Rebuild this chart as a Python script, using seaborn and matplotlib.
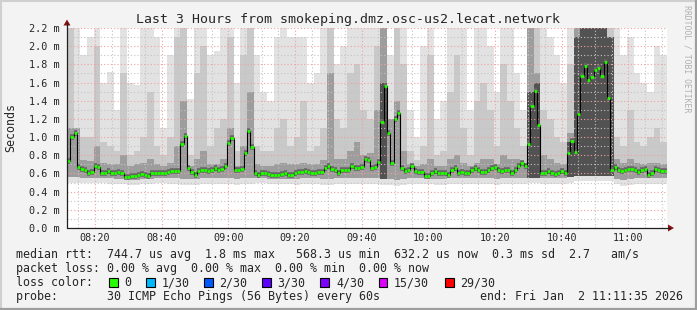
import numpy as np
import pandas as pd
import matplotlib
matplotlib.use("Agg")
import matplotlib.pyplot as plt
import seaborn as sns
from matplotlib.lines import Line2D
from matplotlib.patches import Polygon, Rectangle

# ---------------- data ----------------
# one-minute median RTT values (ms), 180 steps from 08:11:35 to 11:11:35
median_ms = [
    0.737, 1.00, 1.05, 0.67, 0.65, 0.635, 0.60, 0.62, 0.685, 0.67,
    0.605, 0.605, 0.625, 0.61, 0.61, 0.62, 0.60, 0.56, 0.56, 0.575,
    0.575, 0.58, 0.59, 0.58, 0.575, 0.60, 0.60, 0.605, 0.605, 0.605,
    0.62, 0.625, 0.625, 0.625, 0.92, 1.015, 0.665, 0.62, 0.585, 0.625,
    0.635, 0.64, 0.625, 0.64, 0.665, 0.64, 0.65, 0.685, 0.935, 0.995,
    0.64, 0.635, 0.65, 0.825, 1.067, 0.89, 0.60, 0.585, 0.60, 0.60,
    0.595, 0.585, 0.585, 0.585, 0.59, 0.605, 0.585, 0.585, 0.60, 0.62,
    0.62, 0.625, 0.62, 0.605, 0.61, 0.62, 0.62, 0.66, 0.68, 0.65,
    0.635, 0.61, 0.635, 0.635, 0.635, 0.68, 0.66, 0.665, 0.67, 0.76,
    0.745, 0.665, 0.67, 0.73, 1.17, 1.565, 1.045, 0.71, 1.20, 1.26,
    0.665, 0.625, 0.64, 0.68, 0.625, 0.62, 0.62, 0.575, 0.57, 0.605,
    0.625, 0.61, 0.605, 0.605, 0.585, 0.64, 0.655, 0.605, 0.62, 0.61,
    0.605, 0.64, 0.655, 0.64, 0.62, 0.62, 0.64, 0.655, 0.67, 0.64,
    0.625, 0.64, 0.635, 0.61, 0.635, 0.68, 0.71, 0.68, 0.92, 1.345,
    1.505, 1.133, 0.60, 0.605, 0.625, 0.61, 0.59, 0.605, 0.625, 0.61,
    0.83, 0.955, 0.84, 1.257, 1.675, 1.785, 1.632, 1.66, 1.74, 1.757,
    1.675, 1.83, 1.433, 0.64, 0.67, 0.635, 0.625, 0.64, 0.645, 0.645,
    0.635, 0.62, 0.64, 0.645, 0.585, 0.60, 0.645, 0.64, 0.625, 0.625,
]

# smoke (ping spread) per two-minute column, ms
smoke_max = [
    2.3, 2.3, 1.9, 2.1, 2.3, 1.6, 1.72, 1.3, 2.3, 1.6, 1.57, 2.3, 2.2, 2.1, 1.1,
    1.9, 2.3, 2.3, 1.42, 2.3, 2.3, 1.9, 1.95, 2.25, 2.3, 1.6, 2.3, 2.3, 1.9, 1.5,
    1.4, 2.1, 2.3, 2.1, 2.1, 2.1, 1.6, 1.7, 2.3, 2.3, 1.8, 2.0, 2.3, 2.3, 2.3,
    2.2, 2.3, 2.3, 1.9, 2.3, 2.3, 1.3, 1.0, 2.0, 2.3, 1.2, 1.4, 2.2, 2.3, 2.3,
    1.3, 2.3, 2.3, 2.0, 1.5, 2.3, 2.2, 1.7, 1.3, 2.3, 2.3, 2.3, 2.1, 1.9, 1.6,
    2.3, 2.3, 2.3, 2.3, 2.3, 2.3, 2.3, 2.3, 1.9, 2.1, 1.7, 1.6, 1.5, 2.0, 1.9,
]
smoke_mid = [
    2.2, 1.1, 1.0, 1.0, 2.0, 0.95, 0.9, 0.85, 1.7, 0.8, 0.85, 1.0, 1.5, 0.9, 0.8,
    1.0, 2.1, 2.2, 0.8, 1.7, 2.0, 0.9, 1.1, 1.2, 2.1, 0.85, 1.9, 2.2, 0.9, 0.85,
    0.85, 1.1, 1.2, 0.9, 1.0, 1.4, 0.85, 0.9, 1.1, 2.2, 1.2, 1.1, 1.7, 1.8, 1.3,
    1.2, 2.0, 2.3, 1.2, 2.2, 1.8, 0.85, 0.75, 0.9, 1.9, 0.8, 0.85, 1.5, 1.9, 1.1,
    0.8, 1.4, 1.6, 1.3, 0.9, 1.8, 1.4, 1.1, 0.9, 2.3, 2.3, 1.3, 1.2, 1.0, 0.95,
    1.8, 2.3, 2.3, 2.3, 2.3, 2.3, 2.3, 1.0, 0.9, 1.3, 0.95, 0.9, 1.0, 1.1, 0.95,
]
smoke_dark = [
    1.1, 1.1, 0.75, 0.74, 0.9, 0.72, 0.7, 0.7, 0.8, 0.68, 0.7, 0.72, 0.76, 0.7, 0.68,
    0.72, 0.9, 1.4, 0.68, 0.76, 0.85, 0.7, 0.7, 0.76, 1.1, 0.68, 0.9, 1.5, 0.7, 0.68,
    0.68, 0.7, 0.72, 0.7, 0.7, 0.72, 0.7, 0.7, 0.75, 1.7, 0.76, 0.76, 0.85, 0.95, 0.8,
    0.82, 1.3, 2.2, 1.2, 1.4, 0.85, 0.7, 0.68, 0.7, 0.76, 0.68, 0.68, 0.76, 0.8, 0.72,
    0.68, 0.72, 0.76, 0.76, 0.7, 0.8, 0.76, 0.76, 0.72, 2.2, 1.7, 0.8, 0.76, 0.72, 0.7,
    1.05, 2.3, 2.3, 2.3, 2.3, 2.3, 2.0, 0.76, 0.72, 0.76, 0.72, 0.7, 0.72, 0.72, 0.7,
]
smoke_core = [
    0, 0, 0, 0, 0, 0, 0, 0, 0, 0, 0, 0, 0, 0, 0,
    0, 0, 0, 0, 0, 0, 0, 0, 0, 0, 0, 0, 0, 0, 0,
    0, 0, 0, 0, 0, 0, 0, 0, 0, 0, 0, 0, 0, 0, 0,
    0, 0, 1.6, 0, 0, 0, 0, 0, 0, 0, 0, 0, 0, 0, 0,
    0, 0, 0, 0, 0, 0, 0, 0, 0, 1.5, 1.6, 0, 0, 0, 0,
    0.95, 2.1, 2.3, 2.3, 2.3, 2.3, 2.1, 0, 0, 0, 0, 0, 0, 0, 0,
]
smoke_low = [
    0.56, 0.56, 0.55, 0.55, 0.55, 0.55, 0.55, 0.54, 0.54, 0.53, 0.53, 0.54, 0.54, 0.55, 0.55,
    0.55, 0.55, 0.54, 0.54, 0.54, 0.55, 0.55, 0.55, 0.55, 0.55, 0.54, 0.55, 0.55, 0.55, 0.55,
    0.54, 0.54, 0.54, 0.54, 0.54, 0.55, 0.55, 0.55, 0.54, 0.54, 0.55, 0.55, 0.55, 0.55, 0.55,
    0.55, 0.55, 0.54, 0.54, 0.53, 0.54, 0.55, 0.55, 0.55, 0.54, 0.54, 0.54, 0.55, 0.55, 0.55,
    0.55, 0.55, 0.55, 0.55, 0.54, 0.55, 0.55, 0.55, 0.55, 0.55, 0.55, 0.55, 0.55, 0.55, 0.55,
    0.56, 0.57, 0.57, 0.57, 0.57, 0.57, 0.57, 0.54, 0.53, 0.54, 0.55, 0.55, 0.55, 0.55, 0.55,
]
smoke_min = [
    0.50, 0.50, 0.50, 0.49, 0.49, 0.49, 0.48, 0.48, 0.48, 0.47, 0.47, 0.48, 0.48, 0.49, 0.49,
    0.48, 0.48, 0.47, 0.47, 0.47, 0.48, 0.48, 0.48, 0.48, 0.48, 0.47, 0.48, 0.48, 0.49, 0.49,
    0.48, 0.48, 0.48, 0.48, 0.47, 0.48, 0.48, 0.48, 0.47, 0.47, 0.48, 0.48, 0.48, 0.48, 0.48,
    0.48, 0.48, 0.47, 0.47, 0.46, 0.47, 0.48, 0.48, 0.48, 0.48, 0.47, 0.47, 0.48, 0.48, 0.48,
    0.48, 0.48, 0.48, 0.48, 0.47, 0.48, 0.48, 0.48, 0.48, 0.49, 0.49, 0.48, 0.48, 0.48, 0.48,
    0.50, 0.52, 0.52, 0.52, 0.52, 0.52, 0.52, 0.48, 0.46, 0.47, 0.48, 0.48, 0.48, 0.48, 0.48,
]

start_time = "08:11:35"
x_tick_labels = ["08:20", "08:40", "09:00", "09:20", "09:40", "10:00", "10:20", "10:40", "11:00"]
y_ticks = [0.0, 0.2, 0.4, 0.6, 0.8, 1.0, 1.2, 1.4, 1.6, 1.8, 2.0, 2.2]
y_tick_labels = ["0.0 m", "0.2 m", "0.4 m", "0.6 m", "0.8 m", "1.0 m", "1.2 m",
                 "1.4 m", "1.6 m", "1.8 m", "2.0 m", "2.2 m"]

title = "Last 3 Hours from smokeping.dmz.osc-us2.lecat.network"
line_rtt = "median rtt:  744.7 us avg  1.8 ms max   568.3 us min  632.2 us now  0.3 ms sd  2.7   am/s"
line_loss = "packet loss: 0.00 % avg  0.00 % max  0.00 % min  0.00 % now"
loss_labels = ["0", "1/30", "2/30", "3/30", "4/30", "15/30", "29/30"]
loss_colors = ["#26ff00", "#00b8ff", "#0059ff", "#5e00ff", "#7e00ff", "#dd00ff", "#ff0000"]
line_probe = "probe:       30 ICMP Echo Pings (56 Bytes) every 60s"
line_end = "end: Fri Jan  2 11:11:35 2026"

# ---------------- figure ----------------
sns.set_style("white")
MONO = "DejaVu Sans Mono"
plt.rcParams["font.family"] = [MONO, "DejaVu Sans"]

W, H = 697, 310
BG = "#f3f3f3"
fig = plt.figure(figsize=(W / 100, H / 100), dpi=100, facecolor=BG)


def fx(px):
    return px / W


def fy(py):
    return 1 - py / H


L, R, T, B = 67, 667, 28, 228
ax = fig.add_axes([fx(L), fy(B), (R - L) / W, (B - T) / H])
ax.set_facecolor("white")
ax.set_xlim(0, 180)
ax.set_ylim(0, 2.2)


def to_min(hhmm):
    parts = [int(p) for p in hhmm.split(":")]
    s0 = [int(p) for p in start_time.split(":")]
    return (parts[0] * 60 + parts[1]) - (s0[0] * 60 + s0[1] + s0[2] / 60)


# smoke layers
ncol = len(smoke_max)
xs = np.arange(ncol + 1) * 2.0


def ext(a):
    a = np.asarray(a, dtype=float)
    return np.append(a, a[-1])


lo_min, lo = ext(smoke_min), ext(smoke_low)
ax.fill_between(xs, lo_min, ext(smoke_max), step="post", color="#e2e2e2", lw=0, zorder=1)
ax.fill_between(xs, lo, ext(smoke_mid), step="post", color="#c9c9c9", lw=0, zorder=1.1)
ax.fill_between(xs, lo, ext(smoke_dark), step="post", color="#9d9d9d", lw=0, zorder=1.2)
core = np.maximum(ext(smoke_core), lo)
ax.fill_between(xs, lo, core, step="post", color="#525252", lw=0, zorder=1.3)

# median: dark band, thin black step line, green marks
med = np.asarray(median_ms)
t = np.arange(len(med))
ax.hlines(med, t, t + 1, colors="#666666", lw=4.0, zorder=2.8)
df = pd.DataFrame({"t": np.arange(len(med) + 1), "ms": np.append(med, med[-1])})
sns.lineplot(data=df, x="t", y="ms", drawstyle="steps-post", color="black", lw=0.8,
             ax=ax, zorder=3.5)
ax.hlines(med, t, t + 1, colors=loss_colors[0], lw=1.9, zorder=4)

# grid / ticks
major_x = [to_min(s) for s in x_tick_labels]
minor_x = [m for m in np.arange(major_x[0] - 5, 181, 5) if m > 0 and
           all(abs(m - M) > 0.1 for M in major_x)]
ax.set_xticks(major_x)
ax.set_xticks(minor_x, minor=True)
ax.set_xticklabels(x_tick_labels)
ax.set_yticks(y_ticks)
ax.set_yticks([0.1, 0.3, 0.5, 0.7, 0.9, 1.1, 1.3, 1.5, 1.7, 1.9, 2.1], minor=True)
ax.set_yticklabels(y_tick_labels)
ax.set_axisbelow(False)
ax.grid(which="major", color="#f0a0a0", ls=(0, (1, 2)), lw=0.8)
ax.grid(which="minor", color="#c4c4c4", ls=(0, (1, 2)), lw=0.8)
ax.tick_params(which="both", length=0)
for lab in ax.get_yticklabels() + ax.get_xticklabels():
    lab.set_fontfamily(MONO)
    lab.set_fontsize(7.3)
ax.tick_params(axis="y", pad=5)
ax.tick_params(axis="x", pad=3.5)
ax.set_xlabel("")
ax.set_ylabel("")
for s in ["top", "right", "left", "bottom"]:
    ax.spines[s].set_visible(False)

# axes lines with arrows
AX_C = "#202020"
fig.add_artist(Line2D([fx(L), fx(L)], [fy(B), fy(23)], color=AX_C, lw=0.9))
fig.add_artist(Line2D([fx(L), fx(670)], [fy(B), fy(B)], color=AX_C, lw=0.9))
ARC = "#8b1010"
fig.add_artist(Polygon([[fx(L - 3.5), fy(25.5)], [fx(L + 3.5), fy(25.5)], [fx(L), fy(19.5)]],
                       closed=True, color=ARC, lw=0))
fig.add_artist(Polygon([[fx(668), fy(B - 3.5)], [fx(668), fy(B + 3.5)], [fx(674), fy(B)]],
                       closed=True, color=ARC, lw=0))

# frame
fig.add_artist(Line2D([0, 1], [fy(0.5), fy(0.5)], color="#cfcfcf", lw=1.5))
fig.add_artist(Line2D([fx(0.5), fx(0.5)], [0, 1], color="#cfcfcf", lw=1.5))
fig.add_artist(Line2D([0, 1], [fy(H - 0.8), fy(H - 0.8)], color="#9e9e9e", lw=1.6))
fig.add_artist(Line2D([fx(W - 0.8), fx(W - 0.8)], [0, 1], color="#9e9e9e", lw=1.6))

# texts
fig.text(fx(347.5), fy(20), title, ha="center", va="center", family=MONO, size=9.55)
fig.text(fx(10.5), fy(128), "Seconds", ha="center", va="center", rotation=90,
         family=MONO, size=8.4)
fig.text(fx(687), fy(59), "RRDTOOL / TOBI OETIKER", ha="center", va="center",
         rotation=270, family=MONO, size=5.9, color="#b0b0b0")

LS = 8.4
fig.text(fx(16), fy(254.5), line_rtt, ha="left", va="center", family=MONO, size=LS)
fig.text(fx(16), fy(268.5), line_loss, ha="left", va="center", family=MONO, size=LS)
fig.text(fx(16), fy(282.5), "loss color:", ha="left", va="center", family=MONO, size=LS)
box_x = [109, 146, 204, 262, 320, 379, 445]
lab_x = [124, 162, 219, 277, 336, 394, 460]
for bx, lx, c, lab in zip(box_x, lab_x, loss_colors, loss_labels):
    fig.add_artist(Rectangle((fx(bx), fy(286.5)), 8.5 / W, 8.5 / H, facecolor=c,
                             edgecolor="black", lw=0.8))
    fig.text(fx(lx), fy(282.5), lab, ha="left", va="center", family=MONO, size=LS)
fig.text(fx(16), fy(296.5), line_probe, ha="left", va="center", family=MONO, size=LS)
fig.text(fx(683), fy(296.5), line_end, ha="right", va="center", family=MONO, size=LS)

fig.savefig("out.png", dpi=100, facecolor=BG)
